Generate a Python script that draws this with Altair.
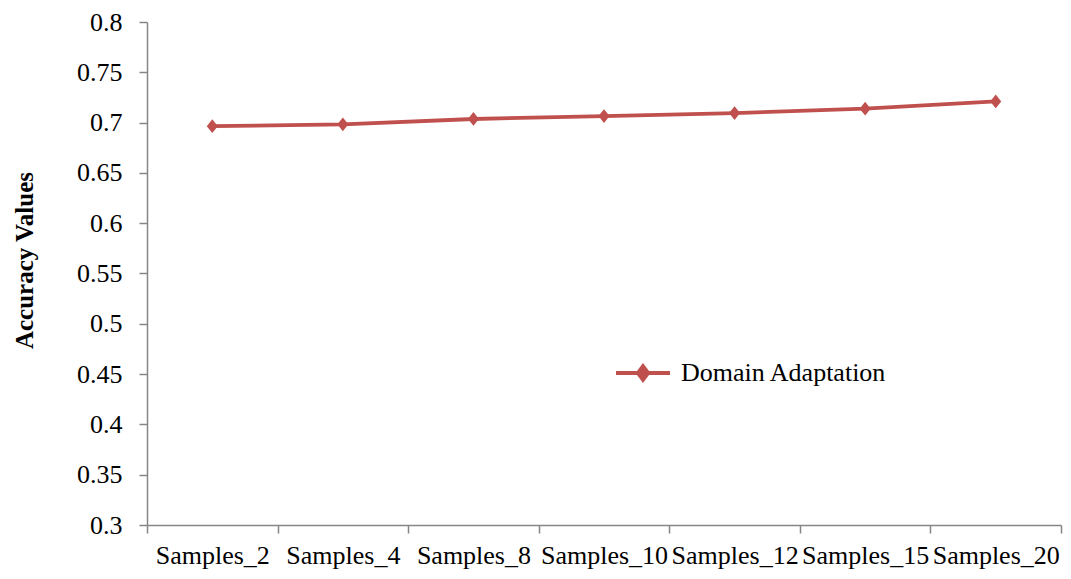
import json
import altair as alt
import pandas as pd

categories = ["Samples_2", "Samples_4", "Samples_8", "Samples_10", "Samples_12", "Samples_15", "Samples_20"]
accuracy = [0.6964, 0.6983, 0.7036, 0.7065, 0.7095, 0.7138, 0.7210]
series_name = "Domain Adaptation"
y_ticks = [0.3, 0.35, 0.4, 0.45, 0.5, 0.55, 0.6, 0.65, 0.7, 0.75, 0.8]

df = pd.DataFrame({
    "category": categories,
    "pos": [i + 0.5 for i in range(len(categories))],
    "accuracy": accuracy,
    "series": [series_name] * len(categories),
})

FONT = "'Liberation Serif', 'Times New Roman', 'DejaVu Serif', serif"
RED = "#C0504D"
AXIS_GRAY = "#868686"

label_expr = "%s[floor(datum.value)]" % json.dumps(categories)

x_scale = alt.Scale(domain=[0, len(categories)], nice=False, zero=False)
y_scale = alt.Scale(domain=[0.3, 0.8], nice=False, zero=False)

y_axis = alt.Axis(
    values=y_ticks, format=".2~f", title="Accuracy Values",
    titleFont=FONT, titleFontSize=25, titleFontWeight="bold", titleColor="black",
    titleAngle=270, titleX=-123, titleY=238, titleAlign="center", titleBaseline="middle",
    labelFont=FONT, labelFontSize=26, labelColor="black", labelPadding=17,
    tickSize=8, tickColor=AXIS_GRAY, domainColor=AXIS_GRAY, grid=False,
    tickWidth=1.5, domainWidth=1.5,
)

line = alt.Chart(df).mark_line(
    strokeWidth=3.8,
    point=alt.OverlayMarkDef(shape="M-0.8,0L0,-1L0.8,0L0,1Z", size=190, filled=True, color=RED, opacity=1),
).encode(
    x=alt.X(
        "pos:Q", scale=x_scale,
        axis=alt.Axis(
            values=[i + 0.5 for i in range(len(categories))], labelExpr=label_expr,
            title=None, ticks=False, domain=False, grid=False, orient="bottom",
            labelFont=FONT, labelFontSize=26, labelColor="black",
            labelPadding=38, labelBaseline="alphabetic", labelFlush=False,
        ),
    ),
    y=alt.Y("accuracy:Q", scale=y_scale, axis=y_axis),
    color=alt.Color(
        "series:N",
        scale=alt.Scale(range=[RED]),
        legend=alt.Legend(
            title=None, orient="none", legendX=467, legendY=322,
            symbolType="M-1,0L1,0M0,-0.25L0.19,0L0,0.25L-0.19,0Z",
            symbolSize=2916, symbolStrokeWidth=3.8, symbolFillColor=RED, symbolStrokeColor=RED,
            symbolOpacity=1,
            labelFont=FONT, labelFontSize=26, labelColor="black", labelOffset=9,
            labelLimit=0, padding=0,
        ),
    ),
)

ticks_layer = alt.Chart(df).mark_line(opacity=0).encode(
    x=alt.X(
        "pos:Q", scale=x_scale,
        axis=alt.Axis(
            values=list(range(len(categories) + 1)), labels=False, title=None,
            tickSize=8, tickColor=AXIS_GRAY, domainColor=AXIS_GRAY, grid=False,
            tickWidth=1.5, domainWidth=1.5, orient="bottom",
        ),
    ),
    y=alt.Y("accuracy:Q", scale=y_scale, axis=y_axis),
)

chart = alt.layer(ticks_layer, line).resolve_axis(x="independent").properties(
    width=914,
    height=503,
    autosize=alt.AutoSizeParams(type="none"),
    padding={"left": 139, "top": 14, "right": 2, "bottom": 46},
    background="white",
).configure_view(stroke=None)

chart.save("out.html", embed_options={"renderer": "svg", "actions": False})
